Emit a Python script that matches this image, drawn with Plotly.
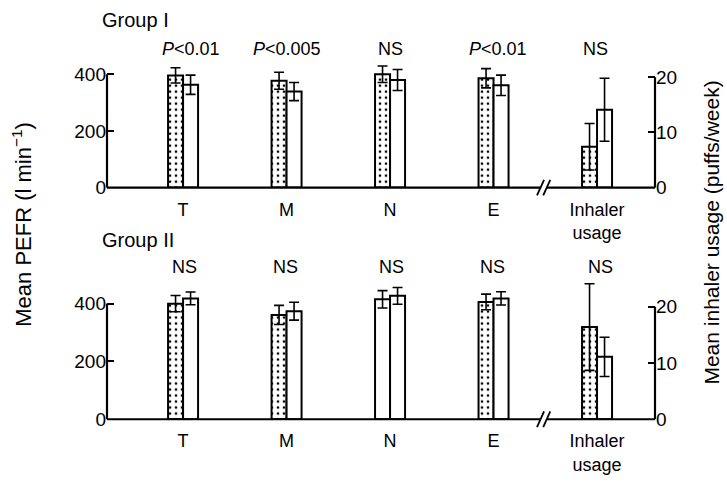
import plotly.graph_objects as go

W, H = 727, 483

# ---------------- data ----------------
categories = ["T", "M", "N", "E"]
inhaler_label = "Inhaler<br>usage"

g1_before = [396, 377, 400, 386]
g1_before_err = [27, 30, 29, 34]
g1_after = [363, 339, 380, 361]
g1_after_err = [34, 32, 37, 36]
g1_inh_before = [7.4]
g1_inh_before_err = [4.2]
g1_inh_after = [14.1]
g1_inh_after_err = [5.7]
g1_sig = ["<i>P</i>&lt;0.01", "<i>P</i>&lt;0.005", "NS", "<i>P</i>&lt;0.01", "NS"]

g2_before = [400, 361, 415, 406]
g2_before_err = [28, 33, 30, 27]
g2_after = [418, 374, 427, 418]
g2_after_err = [22, 31, 29, 23]
g2_inh_before = [16.4]
g2_inh_before_err = [7.7]
g2_inh_after = [11.1]
g2_inh_after_err = [3.5]
g2_sig = ["NS", "NS", "NS", "NS", "NS"]
g2_before_pattern = [".", ".", "", "."]  # N bar printed without stipple

pefr_ticks = [0, 200, 400]
inh_ticks = [0, 10, 20]

# ---------------- layout helpers ----------------
FONT = "Liberation Sans, Arial, sans-serif"
def px(x):
    return x / W
def py(y):
    return 1 - y / H

XR = [-0.735, 4.56]
XDOM = [px(107), px(655)]
TOP_DOM = [py(192), py(60)]
BOT_DOM = [py(429), py(285)]
TOP_R1 = [0, 455.2]
TOP_R2 = [0, 23.36]
BOT_R1 = [0, 486.9]
BOT_R2 = [0, 25.04]

BW = 0.145
pos = list(range(len(categories)))
inh_pos = [len(categories)]

def bar(x, y, err, xa, ya, offset, pattern):
    m = dict(color="white", line=dict(color="black", width=2))
    if pattern is not None:
        m["pattern"] = dict(shape=pattern, fgcolor="black", bgcolor="white",
                            size=6, solidity=0.16, fillmode="replace")
    return go.Bar(x=x, y=y, width=BW, offset=offset, xaxis=xa, yaxis=ya,
                  marker=m, showlegend=False, cliponaxis=False,
                  error_y=dict(type="data", array=err, visible=True,
                               color="black", thickness=1.6, width=5))

fig = go.Figure()
# group I
fig.add_trace(bar(pos, g1_before, g1_before_err, "x", "y", -BW, "."))
fig.add_trace(bar(pos, g1_after, g1_after_err, "x", "y", 0, None))
fig.add_trace(bar(inh_pos, g1_inh_before, g1_inh_before_err, "x", "y2", -BW, "."))
fig.add_trace(bar(inh_pos, g1_inh_after, g1_inh_after_err, "x", "y2", 0, None))
# group II
fig.add_trace(bar(pos, g2_before, g2_before_err, "x2", "y3", -BW, g2_before_pattern))
fig.add_trace(bar(pos, g2_after, g2_after_err, "x2", "y3", 0, None))
fig.add_trace(bar(inh_pos, g2_inh_before, g2_inh_before_err, "x2", "y4", -BW, "."))
fig.add_trace(bar(inh_pos, g2_inh_after, g2_inh_after_err, "x2", "y4", 0, None))

ytickfont = dict(family=FONT, size=19, color="black")
xtickfont = dict(family=FONT, size=18, color="black")
xcommon = dict(domain=XDOM, range=XR, tickvals=pos + inh_pos,
               ticktext=categories + [inhaler_label], ticks="", showline=False,
               showgrid=False, zeroline=False, tickfont=xtickfont,
               ticklabelstandoff=9)
ycommon = dict(ticks="inside", ticklen=7, tickwidth=2, tickcolor="black",
               showline=False, showgrid=False, zeroline=False, tickfont=ytickfont)

fig.update_layout(
    width=W, height=H, margin=dict(l=0, r=0, t=0, b=0),
    paper_bgcolor="white", plot_bgcolor="white", barmode="overlay",
    xaxis=dict(anchor="y", **xcommon),
    xaxis2=dict(anchor="y3", **xcommon),
    yaxis=dict(anchor="x", domain=TOP_DOM, range=TOP_R1, tickvals=pefr_ticks, **ycommon),
    yaxis2=dict(anchor="x", overlaying="y", side="right", range=TOP_R2,
                tickvals=inh_ticks, **ycommon),
    yaxis3=dict(anchor="x2", domain=BOT_DOM, range=BOT_R1, tickvals=pefr_ticks, **ycommon),
    yaxis4=dict(anchor="x2", overlaying="y3", side="right", range=BOT_R2,
                tickvals=inh_ticks, **ycommon),
)

# ---------------- axis lines (with break) ----------------
def xpaper(v):
    return XDOM[0] + (v - XR[0]) / (XR[1] - XR[0]) * (XDOM[1] - XDOM[0])
def ypaper(v, dom, rng):
    return dom[0] + (v - rng[0]) / (rng[1] - rng[0]) * (dom[1] - dom[0])

shapes = []
line = dict(color="black", width=2.2)
brk_l, brk_r = 3.449, 3.517
for dom, r1, r2 in [(TOP_DOM, TOP_R1, TOP_R2), (BOT_DOM, BOT_R1, BOT_R2)]:
    y0 = dom[0]
    shapes.append(dict(type="line", xref="paper", yref="paper", x0=XDOM[0], x1=XDOM[0],
                       y0=y0, y1=ypaper(pefr_ticks[-1], dom, r1), line=line))
    shapes.append(dict(type="line", xref="paper", yref="paper", x0=XDOM[1], x1=XDOM[1],
                       y0=y0, y1=ypaper(inh_ticks[-1], dom, r2), line=line))
    shapes.append(dict(type="line", xref="paper", yref="paper", x0=XDOM[0],
                       x1=xpaper(brk_l), y0=y0, y1=y0, line=line))
    shapes.append(dict(type="line", xref="paper", yref="paper", x0=xpaper(brk_r),
                       x1=XDOM[1], y0=y0, y1=y0, line=line))
    for xs in [3.420, 3.480]:
        shapes.append(dict(type="line", xref="paper", yref="paper",
                           x0=xpaper(xs), x1=xpaper(xs + 0.068),
                           y0=y0 - 8 / H, y1=y0 + 8 / H, line=dict(color="black", width=1.8)))
fig.update_layout(shapes=shapes)

# ---------------- annotations ----------------
ann = []
def text(t, x, y, size=18, xanchor="center", angle=0):
    ann.append(dict(text=t, x=px(x), y=py(y), xref="paper", yref="paper",
                    xanchor=xanchor, yanchor="middle", showarrow=False, textangle=angle,
                    font=dict(family=FONT, size=size, color="black")))

text("Group I", 100, 20, size=20, xanchor="left")
text("Group II", 100, 246, size=20, xanchor="left")
for t, x in zip(g1_sig, [191, 287, 390, 498, 595]):
    text(t, x, 50)
for t, x in zip(g2_sig, [185, 285, 391, 492, 600]):
    text(t, x, 273)
text("Mean PEFR (l min<sup>−1</sup>)", 22, 230, size=22, angle=-90)
text("Mean inhaler usage (puffs/week)", 712, 238, size=21, angle=-90)
fig.update_layout(annotations=ann)

fig.write_html("out.html")
